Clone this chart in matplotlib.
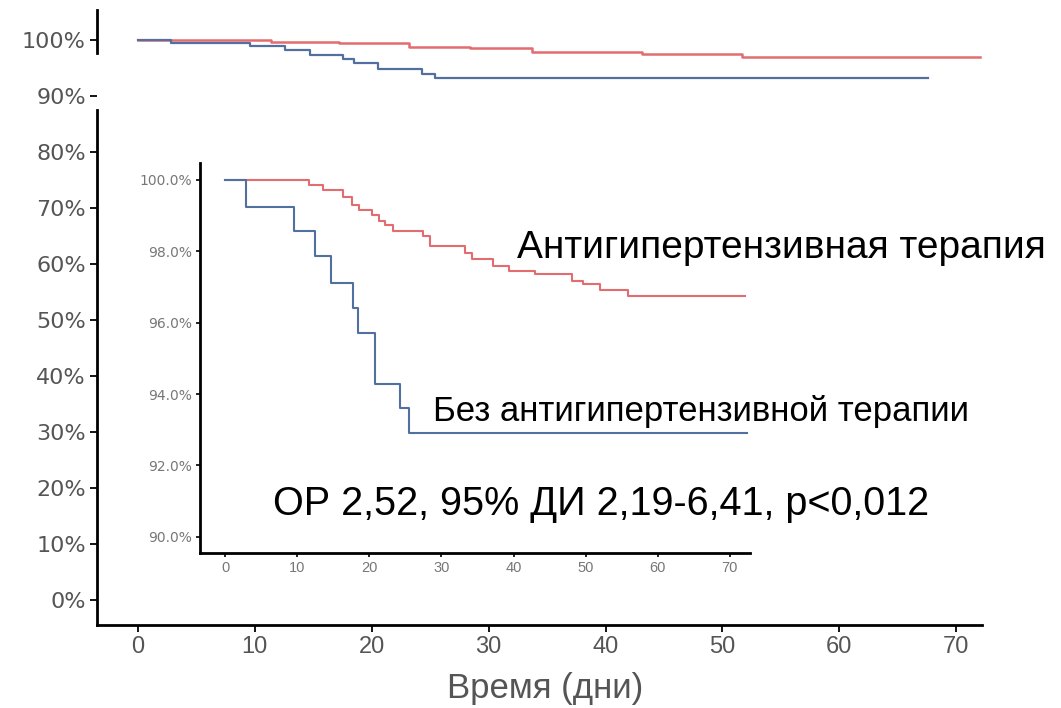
import matplotlib
matplotlib.use("Agg")
import matplotlib.pyplot as plt
from matplotlib.ticker import PercentFormatter

# main panel (survival, %)
main_red_t = [0, 11.4, 17.2, 23.2, 28.4, 33.7, 43.1, 51.7, 72.0]
main_red_s = [100, 99.8, 99.5, 98.9, 98.6, 98.0, 97.5, 97.0, 97.0]
main_blue_t = [0, 2.8, 9.6, 12.6, 14.7, 17.5, 18.5, 20.5, 24.3, 25.4, 67.6]
main_blue_s = [100, 99.6, 99.0, 98.3, 97.4, 96.7, 96.0, 94.9, 94.0, 93.3, 93.3]

# inset (zoomed 90-100 %)
inset_red_t = [0, 11.6, 13.6, 16.4, 17.6, 18.5, 20.3, 21.3, 22.2, 23.3, 27.5, 28.4,
               33.3, 34.2, 37.2, 39.3, 43.0, 48.1, 49.7, 52.0, 55.9, 72.1]
inset_red_s = [100, 99.84, 99.72, 99.53, 99.30, 99.16, 99.02, 98.84, 98.74, 98.56, 98.42, 98.14,
               97.95, 97.77, 97.60, 97.44, 97.35, 97.16, 97.07, 96.91, 96.74, 96.74]
inset_blue_t = [0, 2.9, 9.6, 12.4, 14.7, 17.7, 18.4, 20.8, 24.3, 25.5, 72.4]
inset_blue_s = [100, 99.24, 98.56, 97.86, 97.11, 96.42, 95.72, 94.27, 93.62, 92.9, 92.9]

main_yticks = [0, 10, 20, 30, 40, 50, 60, 70, 80, 90, 100]
inset_yticks = [90, 92, 94, 96, 98, 100]
xticks = [0, 10, 20, 30, 40, 50, 60, 70]

red = "#e26c70"
blue = "#52709f"
sans = ["Liberation Sans", "DejaVu Sans"]

W, H = 1061, 708
fig = plt.figure(figsize=(W / 100, H / 100), dpi=100)


def fx(px):
    return px / W


def fy(py):
    return 1 - py / H


# ---- main axes
ax = fig.add_axes([fx(97), fy(625), fx(982 - 97), (625 - 10) / H])
ax.plot(main_red_t, main_red_s, drawstyle="steps-post", color=red, lw=1.8)
ax.plot(main_blue_t, main_blue_s, drawstyle="steps-post", color=blue, lw=1.6)
ax.set_xlim(-3.5, 72.2)
ax.set_ylim(-4.47, 105.45)
ax.set_xticks(xticks)
ax.set_yticks(main_yticks)
ax.yaxis.set_major_formatter(PercentFormatter(100, decimals=0))
for s in ("top", "right", "left"):
    ax.spines[s].set_visible(False)
ax.spines["bottom"].set_linewidth(2)

# broken y axis line
ax.plot([0, 0], [97.8, 105.45], transform=ax.get_yaxis_transform(),
        color="black", lw=2, clip_on=False)
ax.plot([0, 0], [-4.47, 87.6], transform=ax.get_yaxis_transform(),
        color="black", lw=2, clip_on=False)

ax.tick_params(axis="both", direction="out", length=5, width=1.3, color="black",
               labelcolor="#555555", pad=3)
for lab in ax.get_yticklabels():
    lab.set_fontsize(16)
    lab.set_family("DejaVu Sans")
for lab in ax.get_xticklabels():
    lab.set_fontsize(17)
    lab.set_family(sans)

# ---- inset axes
ax2 = fig.add_axes([fx(200), fy(553), fx(750 - 200), (553 - 163) / H])
ax2.plot(inset_red_t, inset_red_s, drawstyle="steps-post", color=red, lw=1.5)
ax2.plot(inset_blue_t, inset_blue_s, drawstyle="steps-post", color=blue, lw=1.5)
ax2.set_xlim(-3.5, 72.8)
ax2.set_ylim(89.55, 100.47)
ax2.set_xticks(xticks)
ax2.set_yticks(inset_yticks)
ax2.yaxis.set_major_formatter(PercentFormatter(100, decimals=1))
ax2.spines["top"].set_visible(False)
ax2.spines["right"].set_visible(False)
ax2.spines["left"].set_linewidth(2)
ax2.spines["bottom"].set_linewidth(2)
ax2.patch.set_alpha(0)
ax2.tick_params(axis="both", direction="out", length=3, width=1.2, color="black",
                labelcolor="#777777", pad=3)
for lab in ax2.get_yticklabels():
    lab.set_fontsize(10)
    lab.set_family("DejaVu Sans")
for lab in ax2.get_xticklabels():
    lab.set_fontsize(10.5)
    lab.set_family(sans)

# ---- annotations
fig.text(fx(517), fy(258), "Антигипертензивная терапия", fontsize=28,
         family=sans, color="black", va="baseline", ha="left")
fig.text(fx(433), fy(421), "Без антигипертензивной терапии", fontsize=25,
         family=sans, color="black", va="baseline", ha="left")
fig.text(fx(273), fy(515), "ОР 2,52, 95% ДИ 2,19-6,41, p<0,012", fontsize=28.5,
         family=sans, color="black", va="baseline", ha="left")
fig.text(fx(545), fy(698), "Время (дни)", fontsize=25,
         family=sans, color="#555555", va="baseline", ha="center")

fig.savefig("out.png", dpi=100)
